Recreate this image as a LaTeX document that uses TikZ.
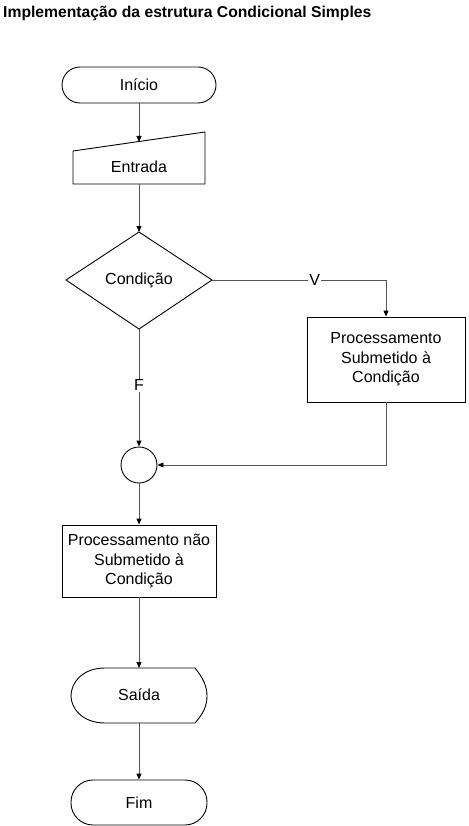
\documentclass[tikz,border=0pt]{standalone}
\usepackage{fontspec}
\setmainfont{Liberation Sans}
\usetikzlibrary{arrows.meta,positioning}
\definecolor{conn}{RGB}{85,85,85}
\tikzset{
  shapeline/.style={draw=black,line width=0.9pt},
  txt/.style={font=\fontsize{16}{19.5}\selectfont,align=center,inner sep=1pt},
  term/.style={shapeline,rounded corners=18pt,minimum width=154pt,minimum height=36pt,txt},
  procbox/.style={shapeline,minimum width=156pt,minimum height=85pt,txt},
  conarrow/.style={draw=conn,line width=0.9pt,-{Triangle[length=6pt,width=5pt,color=black]}},
  lbl/.style={txt,fill=white,inner sep=1pt}
}
\begin{document}
\begin{tikzpicture}[x=1pt,y=-1pt]
\useasboundingbox (0,0) rectangle (468,826);
% title
\node[anchor=west,font=\fontsize{15.7}{18}\selectfont\bfseries,inner sep=0pt] (title) at (3,13) {Implementação da estrutura Condicional Simples};
% Inicio
\node[term] (inicio) at (139,85) {Início};
% Entrada (manual input)
\draw[shapeline] (73,151) -- (205,132) -- (205,184) -- (73,184) -- cycle;
\node[txt] (entrada) at (139,167) {Entrada};
\coordinate (entradaTop) at (139,142);
\coordinate (entradaBot) at (139,184);
% Condicao diamond
\draw[shapeline] (139,232) -- (212,280) -- (139,329) -- (66,280) -- cycle;
\node[txt] (cond) at (139,280) {Condição};
\coordinate (condTop) at (139,232);
\coordinate (condRight) at (212,280);
\coordinate (condBot) at (139,329);
% right process box
\node[procbox,minimum width=158pt] (proc1) at (386,359.5) {Processamento\\Submetido à\\Condição};
% connector circle
\node[shapeline,circle,minimum size=36pt,inner sep=0pt] (junc) at (139,465) {};
% second process box
\node[procbox,minimum width=154pt,minimum height=72pt] (proc2) at (139,561) {Processamento não\\Submetido à\\Condição};
% Saida display shape
\draw[shapeline] (105,668) -- (195,668) .. controls (203,678) and (207,686) .. (207,696)
  .. controls (207,706) and (203,714) .. (195,723) -- (105,723)
  .. controls (82,723) and (71,708) .. (71,696)
  .. controls (71,683) and (82,668) .. (105,668) -- cycle;
\node[txt] (saida) at (139,695) {Saída};
\coordinate (saidaTop) at (139,668);
\coordinate (saidaBot) at (139,723);
% Fim
\node[term,minimum width=136pt,minimum height=45pt,rounded corners=22pt] (fim) at (139,802.5) {Fim};
% connectors
\draw[conarrow] (inicio.south) -- (entradaTop);
\draw[conarrow] (entradaBot) -- (condTop);
\draw[conarrow] (condRight) -- (proc1.north |- condRight) node[lbl,pos=0.59] (v) {V} -- (proc1.north);
\draw[conarrow] (condBot) -- node[lbl,pos=0.48] (f) {F} (junc.north);
\draw[conarrow] (proc1.south) |- (junc.east);
\draw[conarrow] (junc.south) -- (proc2.north);
\draw[conarrow] (proc2.south) -- (saidaTop);
\draw[conarrow] (saidaBot) -- (fim.north);
\end{tikzpicture}
\end{document}
